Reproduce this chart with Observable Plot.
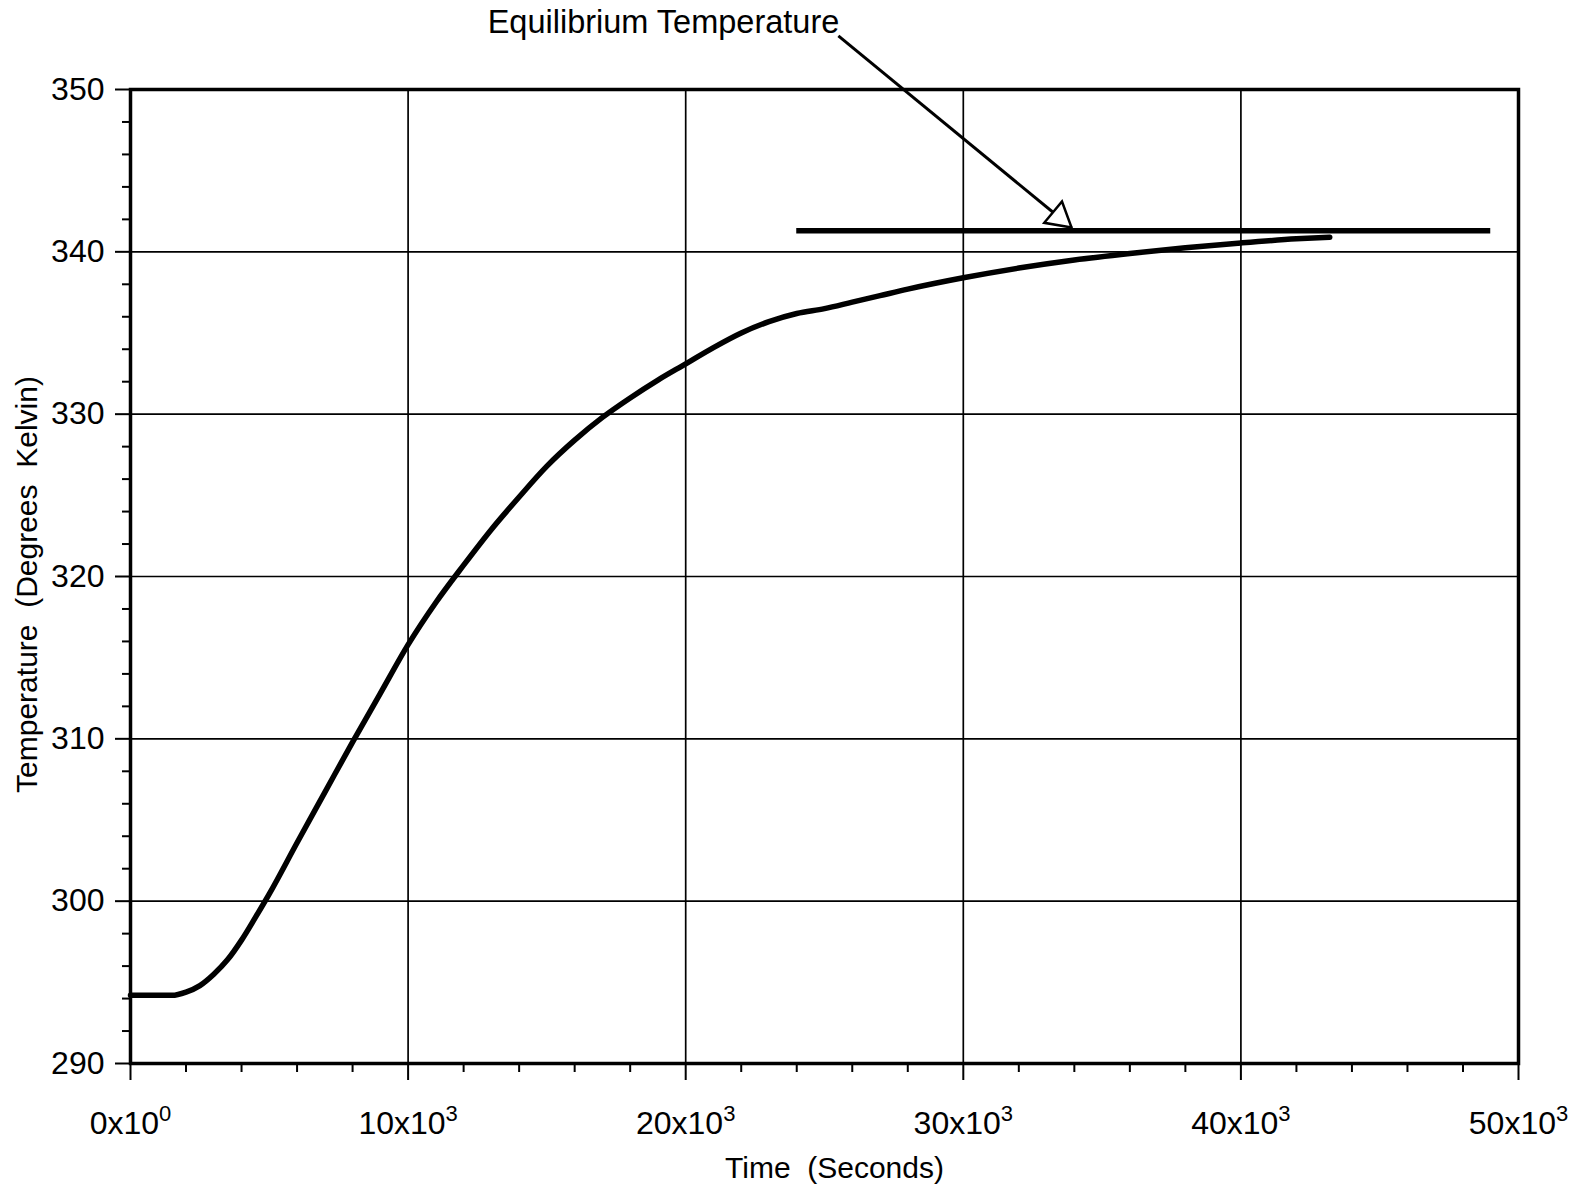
<!DOCTYPE html>
<html><head><meta charset="utf-8">
<script src="https://cdn.jsdelivr.net/npm/d3@7"></script>
<script src="https://cdn.jsdelivr.net/npm/@observablehq/plot@0.6"></script>
<style>
html,body{margin:0;padding:0;background:#fff;}
#chart{width:1583px;height:1188px;}
</style></head><body><div id="chart"></div>
<script>
// ---- data ----
const timeSeconds = [0, 1500, 2000, 2500, 3000, 3500, 4000, 4500, 5000, 6000, 7000, 8000, 9000, 10000, 11000, 12000, 13000, 14000, 15000, 16000, 17000, 18000, 19000, 20000, 21000, 22000, 23000, 24000, 25000, 26000, 27000, 28000, 30000, 32000, 34000, 36000, 38000, 40000, 42000, 43200];
const temperatureK = [294.2, 294.2, 294.4, 294.8, 295.5, 296.4, 297.6, 299.0, 300.45, 303.6, 306.7, 309.8, 312.8, 315.8, 318.4, 320.7, 322.9, 324.9, 326.8, 328.4, 329.8, 331.0, 332.1, 333.1, 334.1, 335.0, 335.7, 336.2, 336.5, 336.9, 337.3, 337.7, 338.4, 339.0, 339.5, 339.9, 340.25, 340.55, 340.8, 340.9];
const equilibriumTemp = 341.3;
const equilibriumStart = 24000;
const equilibriumEnd = 49000;

const xMajorTicks = [0, 10000, 20000, 30000, 40000, 50000];
const xTickMantissa = ["0x10", "10x10", "20x10", "30x10", "40x10", "50x10"];
const xTickExponent = ["0", "3", "3", "3", "3", "3"];
const xMinorTicks = [2000, 4000, 6000, 8000, 12000, 14000, 16000, 18000, 22000, 24000, 26000, 28000, 32000, 34000, 36000, 38000, 42000, 44000, 46000, 48000];
const yMajorTicks = [290, 300, 310, 320, 330, 340, 350];
const yMinorTicks = [292, 294, 296, 298, 302, 304, 306, 308, 312, 314, 316, 318, 322, 324, 326, 328, 332, 334, 336, 338, 342, 344, 346, 348];

const annotationLabel = ["Equilibrium Temperature"];
const annotationX = [19200];
const annotationY = [354.1];
const arrowFromX = [25500], arrowFromY = [353.3];
const arrowToX = [33900], arrowToY = [341.5];

const xTitle = "Time  (Seconds)";
const yTitle = "Temperature  (Degrees  Kelvin)";

// ---- build ----
const curveData = timeSeconds.map((t, i) => ({t, v: temperatureK[i]}));
const eqData = [{y: equilibriumTemp, x1: equilibriumStart, x2: equilibriumEnd}];
const arrowData = arrowFromX.map((d, i) => ({x1: d, y1: arrowFromY[i], x2: arrowToX[i], y2: arrowToY[i]}));
const labelData = annotationLabel.map((s, i) => ({s, x: annotationX[i], y: annotationY[i]}));

const font = "'Liberation Sans', Arial, Helvetica, sans-serif";
const xLabel = d => { const i = xMajorTicks.indexOf(d); return xTickMantissa[i] + "^" + xTickExponent[i]; };

const chart = Plot.plot({
  width: 1583, height: 1188,
  marginLeft: 130, marginRight: 65, marginTop: 89, marginBottom: 125,
  style: {fontFamily: font, background: "#fff", color: "#000", overflow: "visible"},
  x: {domain: [0, 50000]},
  y: {domain: [290, 350]},
  marks: [
    Plot.gridX(xMajorTicks, {stroke: "#000", strokeOpacity: 1, strokeWidth: 1.7}),
    Plot.gridY(yMajorTicks, {stroke: "#000", strokeOpacity: 1, strokeWidth: 1.7}),
    Plot.axisX({ticks: xMinorTicks, tickSize: 9, tickFormat: () => "", label: null, strokeWidth: 2}),
    Plot.axisX({ticks: xMajorTicks, tickSize: 17, tickPadding: 31, tickFormat: xLabel, fontSize: 32, label: null, strokeWidth: 2}),
    Plot.axisY({ticks: yMinorTicks, tickSize: 8, tickFormat: () => "", label: null, strokeWidth: 2}),
    Plot.axisY({ticks: yMajorTicks, tickSize: 15, tickPadding: 11, fontSize: 32, label: null, strokeWidth: 2}),
    Plot.frame({stroke: "#000", strokeWidth: 3.5}),
    Plot.line(curveData, {x: "t", y: "v", stroke: "#000", strokeWidth: 5.5, curve: "monotone-x"}),
    Plot.ruleY(eqData, {y: "y", x1: "x1", x2: "x2", stroke: "#000", strokeWidth: 5.5}),
    Plot.link(arrowData, {x1: "x1", y1: "y1", x2: "x2", y2: "y2", stroke: "#000", strokeWidth: 3}),
    Plot.dot(arrowData, {x: "x2", y: "y2", symbol: "triangle", r: 10.3, rotate: 129.8, dx: -12.3, dy: -10.2, fill: "#fff", stroke: "#000", strokeWidth: 2.5}),
    Plot.text(labelData, {x: "x", y: "y", text: "s", fontSize: 32.5, fill: "#000"}),
    Plot.text([xTitle], {frameAnchor: "bottom", textAnchor: "middle", dy: 114, dx: 10, fontSize: 30, fill: "#000"}),
    Plot.text([yTitle], {frameAnchor: "left", textAnchor: "middle", lineAnchor: "middle", rotate: -90, dx: -103, dy: 8, fontSize: 30, fill: "#000"})
  ]
});

// superscript exponents on x tick labels
d3.select(chart).selectAll('g[aria-label="x-axis tick label"] text').each(function() {
  const s = this.textContent;
  if (!s || s.indexOf("^") < 0) return;
  const [base, exp] = s.split("^");
  this.textContent = base;
  d3.select(this).append("tspan").attr("font-size", "22px").attr("dy", "-13").text(exp);
});

document.getElementById("chart").appendChild(chart);
</script></body></html>
